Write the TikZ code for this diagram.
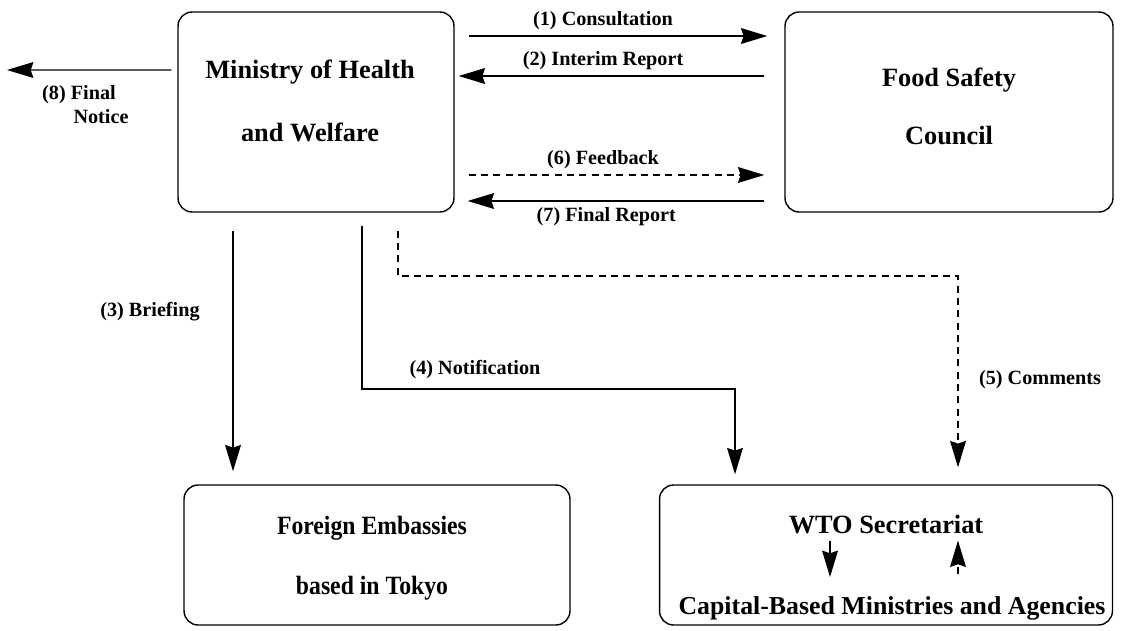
\documentclass[tikz,border=0pt]{standalone}
\usepackage{fontspec}
\setmainfont{Liberation Serif}
\newfontfamily\narrowserif[FakeStretch=0.9]{Liberation Serif}
\usetikzlibrary{arrows.meta,positioning}
\tikzset{>={Stealth[length=15pt,width=9pt,inset=1.5pt]}}

\begin{document}
\begin{tikzpicture}[x=0.02cm,y=-0.02cm,
    box/.style={draw, line width=0.8pt, rounded corners=8pt},
    txt/.style={font=\fontsize{15}{18}\selectfont\bfseries},
    lbl/.style={font=\fontsize{11.5}{13.7}\selectfont\bfseries},
    flow/.style={->, line width=0.8pt},
    dflow/.style={->, line width=0.8pt, dash pattern=on 4pt off 3pt}]
    \useasboundingbox (0,0) rectangle (1129,630);
    % boxes
    \node[box, minimum width=5.52cm, minimum height=4cm] (ministry) at (316,112) {};
    \node[box, minimum width=6.56cm, minimum height=4cm] (council) at (949,112) {};
    \node[box, minimum width=7.72cm, minimum height=2.8cm] (embassies) at (377,555) {};
    \node[box, minimum width=9.06cm, minimum height=2.8cm] (wto) at (886,555) {};
    % box texts
    \node[txt] (mhw1) at (310,72) {Ministry of Health};
    \node[txt] (mhw2) at (310,132) {and Welfare};
    \node[txt] (fsc1) at (949,80) {Food Safety};
    \node[txt] (fsc2) at (949,136) {Council};
    \node[txt, font=\fontsize{15}{18}\selectfont\bfseries\narrowserif] (fe1) at (372,528) {Foreign Embassies};
    \node[txt, font=\fontsize{15}{18}\selectfont\bfseries\narrowserif] (fe2) at (372,588) {based in Tokyo};
    \node[txt] (wtosec) at (886,525) {WTO Secretariat};
    \node[txt, font=\fontsize{14.7}{17}\selectfont\bfseries] (capital) at (892,608) {Capital-Based Ministries and Agencies};
    % free ends
    \coordinate (notice) at (7,70);
    \coordinate (notif) at (735,389);
    \coordinate (comm) at (958,276);
    % between ministry and council
    \draw[flow, shorten <=0.28cm, shorten >=0.34cm] ([yshift=1.52cm]ministry.east) -- ([yshift=1.52cm]council.west)
        node[lbl, above, pos=0.45] {(1) Consultation};
    \draw[flow, shorten <=0.4cm, shorten >=0.08cm] ([yshift=0.72cm]council.west) -- ([yshift=0.72cm]ministry.east)
        node[lbl, above, pos=0.55] {(2) Interim Report};
    \draw[dflow, shorten <=0.28cm, shorten >=0.4cm] ([yshift=-1.26cm]ministry.east) -- ([yshift=-1.26cm]council.west)
        node[lbl, above, pos=0.45] {(6) Feedback};
    \draw[flow, shorten <=0.4cm, shorten >=0.26cm] ([yshift=-1.78cm]council.west) -- ([yshift=-1.78cm]ministry.east)
        node[lbl, below, pos=0.54] {(7) Final Report};
    \draw[flow, shorten <=0.12cm] ([yshift=0.84cm]ministry.west) -- (notice);
    \node[lbl, align=left, anchor=west] (finalnotice) at (36,105) {(8) Final\\\hspace*{1.55em}Notice};
    % down to the lower boxes
    \draw[flow, shorten <=0.36cm, shorten >=0.26cm] ([xshift=-1.66cm]ministry.south) -- ([xshift=-1.66cm]ministry.south |- embassies.north);
    \node[lbl] (briefing) at (150,312) {(3) Briefing};
    \draw[flow, shorten <=0.26cm, shorten >=0.2cm] ([xshift=0.92cm]ministry.south) |- (notif) -- (notif |- wto.north);
    \node[lbl] (notification) at (475,370) {(4) Notification};
    \draw[dflow, shorten <=0.36cm, shorten >=0.34cm] ([xshift=1.64cm]ministry.south) |- (comm) -- (comm |- wto.north);
    \node[lbl] (comments) at (1040,380) {(5) Comments};
    % inside the WTO box
    \draw[flow, shorten >=0.26cm] ([xshift=-1.12cm]wtosec.south) -- ([xshift=-1.12cm]wtosec.south |- capital.north);
    \draw[dflow, shorten <=0.32cm] ([xshift=1.44cm]wtosec.south |- capital.north) -- ([xshift=1.44cm]wtosec.south);
\end{tikzpicture}
\end{document}
